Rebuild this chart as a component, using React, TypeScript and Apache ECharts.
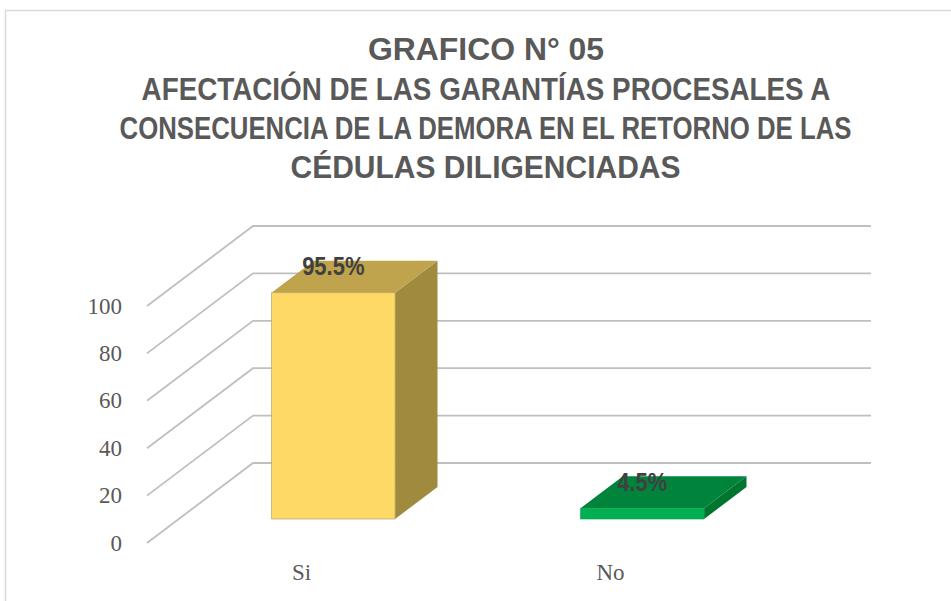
import React, { useEffect, useRef } from "react";
import * as echarts from "echarts";

const categories = ["Si", "No"];
const values = [95.5, 4.5];
const ticks = [0, 20, 40, 60, 80, 100];
const titleLines = [
  "GRAFICO N° 05",
  "AFECTACIÓN DE LAS GARANTÍAS PROCESALES A",
  "CONSECUENCIA DE LA DEMORA EN EL RETORNO DE LAS",
  "CÉDULAS DILIGENCIADAS",
];

const titleFont = 'bold 31px "Liberation Sans"';
const titleCenters = [486, 486, 485.5, 485.5];
const titleYs = [50, 89, 128, 167];
const titleWidths = [236, 690, 735, 390];

const depthX = 106;
const depthY = 80;
const palettes = [
  { front: "#FFD966", top: "#BFA34D", side: "#A08A3E", edge: "#A89A68" },
  { front: "#00B050", top: "#00843C", side: "#00752F", edge: "#00A04A" },
];

function titleScale(text: string, target: number) {
  const ctx = document.createElement("canvas").getContext("2d")!;
  ctx.font = titleFont;
  return target / ctx.measureText(text).width;
}

export default function App() {
  const ref = useRef<HTMLDivElement>(null);
  useEffect(() => {
    const chart = echarts.init(ref.current!, undefined, { renderer: "svg" });
    chart.setOption({
      animation: false,
      backgroundColor: "#ffffff",
      grid: { left: 147, top: 306, width: 618, height: 237 },
      xAxis: {
        type: "category",
        data: categories,
        axisLine: { show: false },
        axisTick: { show: false },
        axisLabel: {
          margin: 18,
          fontSize: 23,
          color: "#595959",
          fontFamily: "Liberation Sans Narrow",
        },
      },
      yAxis: {
        type: "value",
        min: 0,
        max: 100,
        interval: 20,
        axisLine: { show: false },
        axisTick: { show: false },
        splitLine: { show: false },
        axisLabel: {
          margin: 25,
          fontSize: 23,
          color: "#595959",
          fontFamily: "Liberation Sans Narrow",
        },
      },
      graphic: [
        {
          type: "rect",
          silent: true,
          z: -10,
          shape: { x: 5.5, y: 10.5, width: 960, height: 600 },
          style: { fill: "none", stroke: "#D9D9D9", lineWidth: 1.5 },
        },
        ...titleLines.map((text, i) => ({
          type: "text",
          x: titleCenters[i],
          y: titleYs[i],
          scaleX: titleScale(text, titleWidths[i]),
          style: {
            text,
            font: titleFont,
            fill: "#595959",
            textAlign: "center",
            textVerticalAlign: "middle",
          },
        })),
      ],
      series: [
        {
          type: "custom",
          silent: true,
          z: 1,
          clip: false,
          data: ticks.map((t) => [0, t]),
          renderItem: (params: any, api: any) => {
            const y = api.coord([0, api.value(1)])[1];
            const left = params.coordSys.x;
            const right = left + params.coordSys.width + depthX;
            return {
              type: "polyline",
              shape: {
                points: [
                  [left, y],
                  [left + depthX, y - depthY],
                  [right, y - depthY],
                ],
              },
              style: { fill: "none", stroke: "#BFBFBF", lineWidth: 1.8 },
            };
          },
        },
        {
          type: "custom",
          z: 2,
          clip: false,
          data: values.map((v, i) => [i, v]),
          renderItem: (params: any, api: any) => {
            const i = api.value(0);
            const v = api.value(1);
            const p = palettes[params.dataIndex];
            const band = api.size([1, 0])[0];
            const w = band * 0.4;
            const center = api.coord([i, 0])[0];
            const base = api.coord([i, 0])[1];
            const topY = api.coord([i, v])[1];
            // The bar stands between 30% and 70% of the floor's depth.
            const dx0 = depthX * 0.3;
            const dy0 = depthY * 0.3;
            const dx = depthX * 0.4;
            const dy = depthY * 0.4;
            const x0 = center + dx0 - w / 2;
            const x1 = x0 + w;
            const y0 = base - dy0;
            const y1 = topY - dy0;
            return {
              type: "group",
              children: [
                {
                  type: "polygon",
                  shape: {
                    points: [
                      [x1, y1],
                      [x1 + dx, y1 - dy],
                      [x1 + dx, y0 - dy],
                      [x1, y0],
                    ],
                  },
                  style: { fill: p.side },
                },
                {
                  type: "polygon",
                  shape: {
                    points: [
                      [x0, y1],
                      [x0 + dx, y1 - dy],
                      [x1 + dx, y1 - dy],
                      [x1, y1],
                    ],
                  },
                  style: { fill: p.top },
                },
                {
                  type: "rect",
                  shape: { x: x0, y: y1, width: w, height: y0 - y1 },
                  style: { fill: p.front, stroke: p.edge, lineWidth: 0.6 },
                },
                {
                  type: "text",
                  x: x0 + w / 2,
                  y: y1 - 26,
                  scaleX: 0.88,
                  style: {
                    text: `${v}%`,
                    font: 'bold 25px "Liberation Sans"',
                    fill: "#404040",
                    textAlign: "center",
                    textVerticalAlign: "middle",
                  },
                },
              ],
            };
          },
        },
      ],
    });
    return () => chart.dispose();
  }, []);
  return (
    <div
      ref={ref}
      style={{ position: "fixed", left: 0, top: 0, width: 951, height: 601 }}
    />
  );
}
